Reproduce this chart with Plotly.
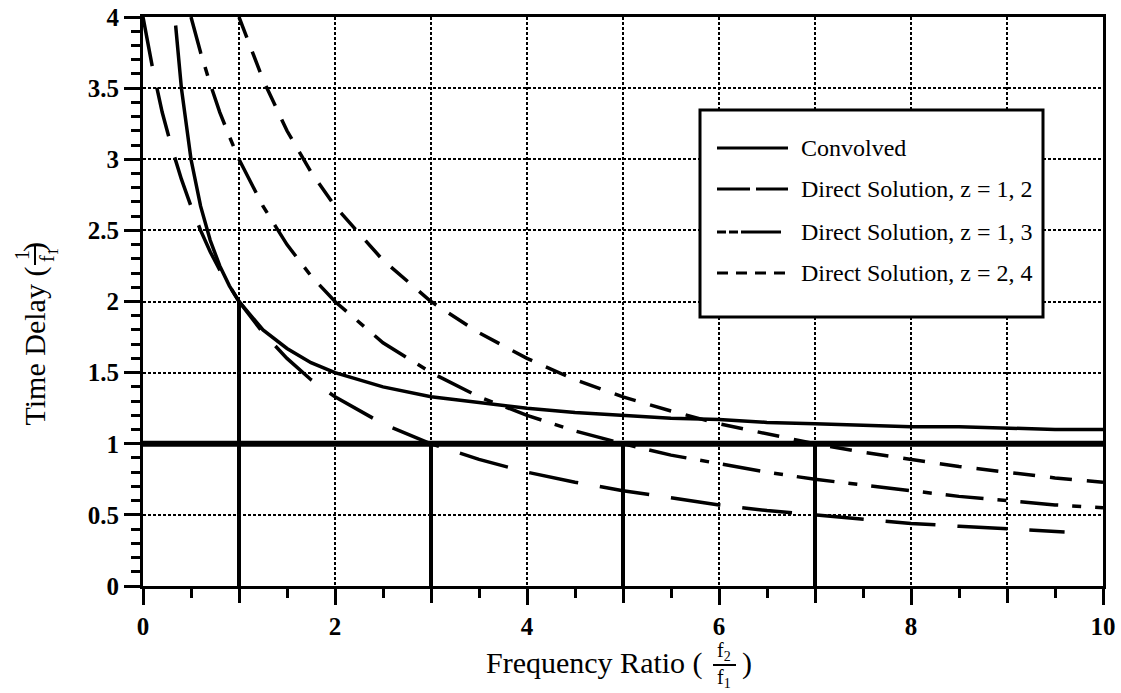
import plotly.graph_objects as go

# ---------------- data ----------------
conv_x = [0.34, 0.4, 0.5, 0.6, 0.7, 0.8, 0.9, 1.0, 1.25, 1.5, 1.75, 2.0, 2.5, 3.0, 3.5,
          4.0, 4.5, 5.0, 5.5, 6.0, 6.5, 7.0, 7.5, 8.0, 8.5, 9.0, 9.5, 10.0]
conv_y = [3.94, 3.5, 3.0, 2.67, 2.43, 2.25, 2.11, 2.0, 1.8, 1.67, 1.57, 1.5, 1.4, 1.33, 1.29,
          1.25, 1.22, 1.2, 1.18, 1.17, 1.15, 1.14, 1.13, 1.12, 1.12, 1.11, 1.1, 1.1]

z12_x = [0.0, 0.05, 0.1, 0.2, 0.3, 0.4, 0.5, 0.6, 0.7, 0.8, 0.9, 1.0, 1.25, 1.5, 1.75, 2.0,
         2.5, 3.0, 3.5, 4.0, 4.5, 5.0, 5.5, 6.0, 6.5, 7.0, 7.5, 8.0, 8.5, 9.0, 9.6]
z12_y = [4.0, 3.81, 3.64, 3.33, 3.08, 2.86, 2.67, 2.5, 2.35, 2.22, 2.11, 2.0, 1.78, 1.6, 1.45, 1.33,
         1.14, 1.0, 0.89, 0.8, 0.73, 0.67, 0.62, 0.57, 0.53, 0.5, 0.47, 0.44, 0.42, 0.4, 0.38]

z13_x = [0.5, 0.6, 0.7, 0.8, 0.9, 1.0, 1.25, 1.5, 1.75, 2.0, 2.5, 3.0, 3.5, 4.0, 4.5, 5.0,
         5.5, 6.0, 6.5, 7.0, 7.5, 8.0, 8.5, 9.0, 9.5, 10.0]
z13_y = [4.0, 3.75, 3.53, 3.33, 3.16, 3.0, 2.67, 2.4, 2.18, 2.0, 1.71, 1.5, 1.33, 1.2, 1.09, 1.0,
         0.92, 0.86, 0.8, 0.75, 0.71, 0.67, 0.63, 0.6, 0.57, 0.55]

z24_x = [1.0, 1.25, 1.5, 1.75, 2.0, 2.5, 3.0, 3.5, 4.0, 4.5, 5.0, 5.5, 6.0, 6.5, 7.0, 7.5,
         8.0, 8.5, 9.0, 9.5, 10.0]
z24_y = [4.0, 3.56, 3.2, 2.91, 2.67, 2.29, 2.0, 1.78, 1.6, 1.45, 1.33, 1.23, 1.14, 1.07, 1.0, 0.94,
         0.89, 0.84, 0.8, 0.76, 0.73]

series_names = ["Convolved", "Direct Solution, z = 1, 2",
                "Direct Solution, z = 1, 3", "Direct Solution, z = 2, 4"]

reference_level = 1.0                 # thick horizontal line
marker_x = [1, 3, 5, 7]               # thick vertical marker lines
marker_top = [2.0, 1.0, 1.0, 1.0]

x_label_vals = [0, 2, 4, 6, 8, 10]
x_label_text = ["0", "2", "4", "6", "8", "10"]
x_odd_vals = [1, 3, 5, 7, 9]
y_tickvals = [0, 0.5, 1, 1.5, 2, 2.5, 3, 3.5, 4]
y_ticktext = ["0", "0.5", "1", "1.5", "2", "2.5", "3", "3.5", "4"]

# ---------------- styling ----------------
W, H = 1121, 693
L, T = 143, 17
R = W - 1103
B = H - 586
PW, PH = W - L - R, H - T - B
FONT = "Liberation Serif"

def px(xp):                   # page pixel -> paper x
    return (xp - L) / PW

def py(yp):                   # page pixel -> paper y
    return (H - B - yp) / PH

curve_dash = ["solid", "50px,22px", "38px,14px,9px,14px", "22px,15px"]
legend_dash = ["solid", "33px,6px", "9px,3px,9px,3px,40px", "11px,8px"]

fig = go.Figure()
for i, (xs, ys, name, dash) in enumerate(zip([conv_x, z12_x, z13_x, z24_x],
                                              [conv_y, z12_y, z13_y, z24_y],
                                              series_names, curve_dash)):
    fig.add_trace(go.Scatter(x=xs, y=ys, mode="lines", name=name, showlegend=False,
                             xaxis="x2" if i == 3 else "x",
                             line=dict(color="black", width=3.5, dash=dash)))

shapes = []
shapes.append(dict(type="line", xref="paper", yref="y", x0=0, x1=1,
                   y0=reference_level, y1=reference_level,
                   line=dict(color="black", width=6), layer="above"))
for mx, mt in zip(marker_x, marker_top):
    shapes.append(dict(type="line", xref="x", yref="y", x0=mx, x1=mx, y0=0, y1=mt,
                       line=dict(color="black", width=4), layer="above"))

# legend box
bx0, bx1, by0, by1 = 700, 1043, 110, 317
shapes.append(dict(type="rect", xref="paper", yref="paper",
                   x0=px(bx0), x1=px(bx1), y0=py(by1), y1=py(by0),
                   fillcolor="white", line=dict(color="black", width=3), layer="above"))
rows = [148, 189, 232, 273]
annotations = []
for r, name, dash in zip(rows, series_names, legend_dash):
    shapes.append(dict(type="line", xref="paper", yref="paper",
                       x0=px(717), x1=px(788), y0=py(r), y1=py(r),
                       line=dict(color="black", width=3, dash=dash), layer="above"))
    annotations.append(dict(xref="paper", yref="paper", x=px(799), y=py(r),
                            xanchor="left", yanchor="middle", showarrow=False,
                            text=name, font=dict(family=FONT, size=24, color="black")))

# x-axis title with stacked fraction
tf = dict(family=FONT, size=30, color="black")
ff = dict(family=FONT, size=20, color="black")
annotations.append(dict(xref="paper", yref="paper", x=px(705), y=py(663), xanchor="right",
                        yanchor="middle", showarrow=False, text="Frequency Ratio (", font=tf))
annotations.append(dict(xref="paper", yref="paper", x=px(724), y=py(651), xanchor="center",
                        yanchor="middle", showarrow=False, text="f<sub>2</sub>", font=ff))
annotations.append(dict(xref="paper", yref="paper", x=px(724), y=py(678), xanchor="center",
                        yanchor="middle", showarrow=False, text="f<sub>1</sub>", font=ff))
shapes.append(dict(type="line", xref="paper", yref="paper", x0=px(713), x1=px(736),
                   y0=py(665), y1=py(665), line=dict(color="black", width=2)))
annotations.append(dict(xref="paper", yref="paper", x=px(740), y=py(663), xanchor="left",
                        yanchor="middle", showarrow=False, text=")", font=tf))

# y-axis title with stacked fraction (rotated)
annotations.append(dict(xref="paper", yref="paper", x=px(34), y=py(428), xanchor="center",
                        yanchor="bottom", textangle=-90, showarrow=False,
                        text="Time Delay (", font=tf))
annotations.append(dict(xref="paper", yref="paper", x=px(22), y=py(255), xanchor="center",
                        yanchor="middle", textangle=-90, showarrow=False, text="1", font=ff))
annotations.append(dict(xref="paper", yref="paper", x=px(48), y=py(255), xanchor="center",
                        yanchor="middle", textangle=-90, showarrow=False,
                        text="f<sub>1</sub>", font=ff))
shapes.append(dict(type="line", xref="paper", yref="paper", x0=px(35), x1=px(35),
                   y0=py(245), y1=py(265), line=dict(color="black", width=2)))
annotations.append(dict(xref="paper", yref="paper", x=px(34), y=py(240), xanchor="center",
                        yanchor="top", textangle=-90, showarrow=False, text=")", font=tf))

grid = dict(showgrid=True, gridcolor="black", gridwidth=2, griddash="3px,2px")
tickfont = dict(family=FONT, size=25, color="black", weight="bold")
fig.update_layout(
    width=W, height=H, margin=dict(l=L, r=R, t=T, b=B, autoexpand=False),
    paper_bgcolor="white", plot_bgcolor="white",
    font=dict(family=FONT, color="black"),
    showlegend=False, shapes=shapes, annotations=annotations,
    xaxis=dict(range=[0, 10], autorange=False, tickvals=x_label_vals, ticktext=x_label_text,
               ticks="outside", ticklen=16, tickwidth=3, tickcolor="black",
               showline=True, linecolor="black", linewidth=3, mirror=True, zeroline=False,
               tickfont=tickfont, ticklabeloverflow="allow",
               minor=dict(dtick=0.5, ticks="outside", ticklen=9, tickwidth=3,
                          tickcolor="black", showgrid=False),
               **grid),
    xaxis2=dict(range=[0, 10], autorange=False, overlaying="x", anchor="y", side="bottom",
                tickvals=x_odd_vals, showticklabels=False,
                ticks="outside", ticklen=16, tickwidth=3, tickcolor="black",
                showline=False, zeroline=False, **grid),
    yaxis=dict(range=[0, 4], autorange=False, tickvals=y_tickvals, ticktext=y_ticktext,
               ticks="outside", ticklen=16, tickwidth=3, tickcolor="black",
               showline=True, linecolor="black", linewidth=3, mirror=True, zeroline=False,
               tickfont=tickfont, ticklabeloverflow="allow",
               minor=dict(dtick=0.1, ticks="outside", ticklen=9, tickwidth=3,
                          tickcolor="black", showgrid=False),
               **grid),
)

fig.write_html("out.html", config={"displayModeBar": False},
               post_script="document.body.style.margin='0';document.body.style.overflow='hidden';")
